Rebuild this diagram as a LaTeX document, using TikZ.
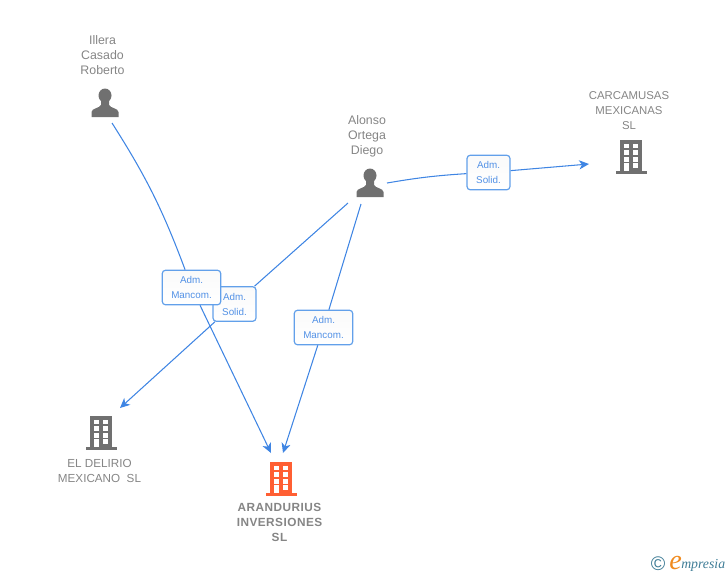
\documentclass[tikz,border=0pt]{standalone}
\usepackage{fontspec}
\setmainfont{Liberation Sans}
\newfontfamily\logofont{Liberation Serif}
\usepackage{xcolor}
\usepackage{tikz}
\usetikzlibrary{arrows.meta, positioning}

\definecolor{enlaceazul}{HTML}{3F85E3}
\definecolor{cajaazul}{HTML}{62A0EA}
\definecolor{textogris}{HTML}{858585}
\definecolor{icongris}{HTML}{707070}
\definecolor{iconnaranja}{HTML}{FF5F33}
\definecolor{logoazul}{HTML}{3E7C96}
\definecolor{logonaranja}{HTML}{F08A1D}

\tikzset{
    enlace/.style={line width=0.75pt,draw=enlaceazul},
    flecha/.style={enlace,-{Stealth[length=7pt,width=6.5pt,inset=2pt]}},
    cargo/.style={draw=cajaazul,line width=0.85pt,rounded corners=2.2pt,top color=black!2,bottom color=white,
        align=center,inner sep=0pt,text=enlaceazul!90!white,font=\fontsize{7}{10.7}\selectfont},
    cargoancho/.style={cargo,minimum width=41.5pt,minimum height=24.5pt},
    cargocorto/.style={cargo,minimum width=30.5pt,minimum height=24.5pt},
    rotulo/.style={align=center,inner sep=0pt,text=textogris,font=\fontsize{8.8}{10.7}\selectfont},
    rotulocaja/.style={rotulo,font=\fontsize{8.1}{10.7}\selectfont},
    icono/.style={minimum width=20pt,minimum height=22pt,inner sep=0pt},
    pics/persona/.style={code={
        \fill[icongris] (0,-7.5) ellipse (6.5 and 7);
        \fill[icongris] (-13.5,14) -- (-13.5,9) .. controls (-13,5) and (-6,5.5) .. (-4,2) -- (-4,-3)
            -- (4,-3) -- (4,2) .. controls (6,5.5) and (13,5) .. (13.5,9) -- (13.5,14) -- cycle;
    }},
    pics/edificio/.style={code={
        \fill[#1] (-11,-17) rectangle (11,14);
        \fill[#1] (-15,14) rectangle (16,17);
        \foreach \fila in {-13,-6.7,0.3} {
            \fill[white] (-7,\fila) rectangle ++(4.6,4.4);
            \fill[white] (2.4,\fila) rectangle ++(4.8,4.4);
        }
        \fill[white] (-7,6) rectangle (-2.4,14);
        \fill[white] (2.4,6) rectangle (7.2,11);
    }}
}

\begin{document}
\begin{tikzpicture}[x=0.025cm,y=-0.025cm]
    \useasboundingbox (0,0) rectangle (728,575);

    % People
    \node[icono] (illera) at (105,103) {};
    \pic at (105,103) {persona};
    \node[rotulo] (illeraTexto) at (102.5,55) {Illera\\Casado\\Roberto};

    \node[icono] (alonso) at (370,183) {};
    \pic at (370,183) {persona};
    \node[rotulo] (alonsoTexto) at (367,136) {Alonso\\Ortega\\Diego};

    % Companies
    \node[icono] (carcamusas) at (631,157) {};
    \pic at (631,157) {edificio=icongris};
    \node[rotulocaja] (carcamusasTexto) at (629,111) {CARCAMUSAS\\MEXICANAS\\SL};

    \node[icono] (delirio) at (101,433) {};
    \pic at (101,433) {edificio=icongris};
    \node[rotulocaja,font=\fontsize{8.3}{10.7}\selectfont] (delirioTexto) at (99.5,470.5) {EL DELIRIO\\MEXICANO\ \ SL};

    \node[icono] (arandurius) at (281,479) {};
    \pic at (281,479) {edificio=iconnaranja};
    \node[rotulo,font=\fontsize{8.4}{10.7}\selectfont\bfseries\addfontfeatures{LetterSpace=4}] (aranduriusTexto) at (279.5,522.5) {ARANDURIUS\\INVERSIONES\\SL};

    % Free ends of the connectors
    \coordinate (illeraSale) at (112,123);
    \coordinate (alonsoSaleA) at (361,204);
    \coordinate (alonsoSaleB) at (348,203);
    \coordinate (alonsoSaleC) at (387,183);
    \coordinate (aranduriusEntraA) at (271,453);
    \coordinate (aranduriusEntraB) at (283,453);
    \coordinate (delirioEntra) at (120,408);
    \coordinate (carcamusasEntra) at (589,164);

    % Role boxes
    \node[cargocorto] (solidA) at (234.5,304) {Adm.\\Solid.};
    \node[cargoancho] (mancomA) at (191.5,287.5) {Adm.\\Mancom.};
    \node[cargoancho] (mancomB) at (323.5,327.5) {Adm.\\Mancom.};
    \node[cargocorto] (solidB) at (488.5,172.5) {Adm.\\Solid.};

    % Connectors
    \draw[enlace] (illeraSale) to[bend left=6] (mancomA);
    \draw[flecha] (mancomA) -- (aranduriusEntraA);
    \draw[enlace] (alonsoSaleA) -- (mancomB);
    \draw[flecha] (mancomB) -- (aranduriusEntraB);
    \draw[enlace] (alonsoSaleB) -- (solidA);
    \draw[flecha] (solidA) -- (delirioEntra);
    \draw[enlace] (alonsoSaleC) to[bend left=3] (solidB);
    \draw[flecha] (solidB) -- (carcamusasEntra);

    % Logo in the corner
    \node[inner sep=0pt,text=logoazul,font=\fontsize{14}{14}\selectfont] (copia) at (658,564) {©};
    \node[inner sep=0pt,anchor=base west,text=logonaranja,font=\logofont\fontsize{20}{20}\selectfont\itshape] (logoE) at (669,569) {e};
    \node[inner sep=0pt,anchor=base west,text=logoazul,font=\logofont\fontsize{9.8}{10}\selectfont\itshape] (logoTexto) at (681,568) {mpresia};

\end{tikzpicture}
\end{document}
